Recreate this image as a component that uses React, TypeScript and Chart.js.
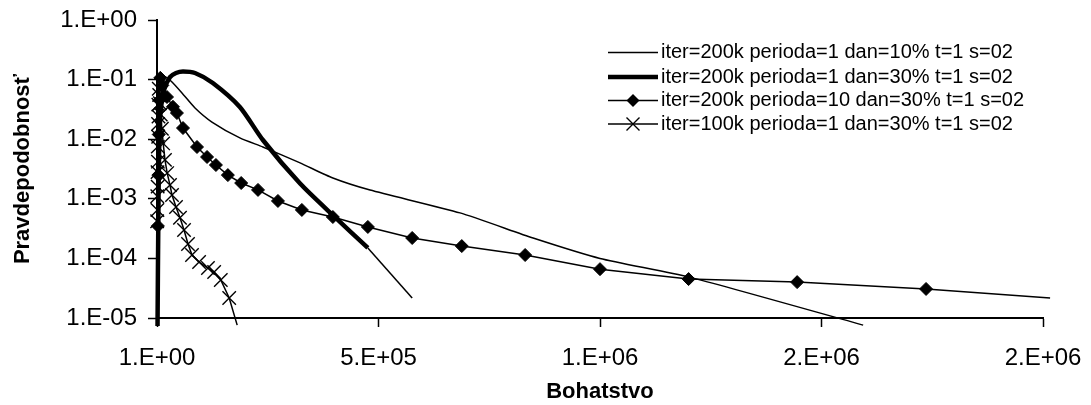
import React, { useEffect, useRef } from "react";
import { Chart, registerables } from "chart.js";

Chart.register(...registerables);

// Series labels
const seriesLabels = [
  "iter=200k perioda=1 dan=10% t=1 s=02",
  "iter=200k perioda=1 dan=30% t=1 s=02",
  "iter=200k perioda=10 dan=30% t=1 s=02",
  "iter=100k perioda=1 dan=30% t=1 s=02",
];

// iter=200k perioda=1 dan=10%
const wealth1 = [700, 4500, 11300, 20300, 33900, 56400, 85800, 124000, 187000, 239000, 323000, 397000, 481000, 684000, 849000, 1000000, 1200000, 1594000];
const prob1 = [9e-5, 0.021, 0.081, 0.11, 0.091, 0.0596, 0.0334, 0.0194, 0.0105, 0.0074, 0.004, 0.00223, 0.0014, 0.00058, 0.00022, 0.0001, 0.000049, 0.0000076];

// iter=200k perioda=1 dan=30%
const wealth2 = [1000, 3400, 6800, 15800, 29300, 42900, 58700, 85800, 126000, 187000, 239000, 323000, 397000, 476000];
const prob2 = [4.3e-6, 0.00095, 0.021, 0.067, 0.11, 0.129, 0.137, 0.129, 0.0877, 0.0347, 0.0097, 0.0018, 0.00053, 0.00015];

// tail of the dan=30% run
const wealthTail = [476000, 576000];
const probTail = [0.00015, 0.0000217];

// iter=200k perioda=10 dan=30%
const wealth3 = [2000, 3000, 4000, 5500, 7500, 12000, 22600, 36000, 45000, 58700, 90300, 113000, 133000, 160000, 190000, 228000, 273000, 327000, 397000, 476000, 576000, 688000, 831000, 1000000, 1200000, 1445000, 1736000, 2016000];
const prob3 = [0.00035, 0.0025, 0.012, 0.045, 0.107, 0.08, 0.051, 0.035, 0.0275, 0.0154, 0.0074, 0.00503, 0.00369, 0.0025, 0.00184, 0.00141, 0.00092, 0.00065, 0.000495, 0.000337, 0.00022, 0.000161, 0.000114, 0.000066, 0.000045, 0.00004, 0.0000307, 0.0000217];

// iter=100k perioda=1 dan=30%
const wealth4 = [300, 600, 900, 1200, 1500, 1800, 2100, 2400, 2700, 3000, 3400, 4000, 5000, 6500, 8500, 11000, 14000, 18000, 23000, 29300, 33900, 42900, 51900, 61000, 70000, 79000, 95000, 115000, 129000, 144000, 163000, 181000];
const prob4 = [0.00042, 0.0011, 0.00065, 0.0028, 0.0016, 0.0075, 0.0042, 0.018, 0.011, 0.038, 0.024, 0.07, 0.055, 0.04, 0.026, 0.015, 0.0085, 0.0045, 0.0027, 0.0017, 0.00116, 0.00073, 0.00048, 0.0003, 0.000175, 0.000114, 0.000087, 0.000069, 0.000059, 0.0000435, 0.0000217, 0.0000076];

// Axes
const xTickValues = [1, 500001, 1000001, 1500001, 2000001];
const xTickLabels = ["1.E+00", "5.E+05", "1.E+06", "2.E+06", "2.E+06"];
const yTickValues = [1e-5, 1e-4, 1e-3, 1e-2, 1e-1, 1];
const yTickLabels = ["1.E-05", "1.E-04", "1.E-03", "1.E-02", "1.E-01", "1.E+00"];
const xTitle = "Bohatstvo";
const yTitle = "Pravdepodobnosť";

const X_MIN = 1;
const X_MAX = 2000001;
const Y_MIN = 1e-5;
const Y_MAX = 1;

const FONT = "'Liberation Sans', Arial, sans-serif";

const pairs = (xs: number[], ys: number[]) => xs.map((x, i) => ({ x, y: ys[i] }));

// hide markers of points that fall outside the axis range
const markerRadius = (r: number) => (ctx: any) => {
  const p = ctx.raw;
  if (!p) return r;
  return p.x > X_MAX || p.y < Y_MIN ? 0 : r;
};

function drawDiamond(ctx: CanvasRenderingContext2D, x: number, y: number, r: number) {
  ctx.beginPath();
  ctx.moveTo(x, y - r);
  ctx.lineTo(x + r, y);
  ctx.lineTo(x, y + r);
  ctx.lineTo(x - r, y);
  ctx.closePath();
  ctx.fill();
}

function drawCross(ctx: CanvasRenderingContext2D, x: number, y: number, r: number) {
  ctx.beginPath();
  ctx.moveTo(x - r, y - r);
  ctx.lineTo(x + r, y + r);
  ctx.moveTo(x + r, y - r);
  ctx.lineTo(x - r, y + r);
  ctx.stroke();
}

// Key drawn inside the plot, upper right
const keyPlugin = {
  id: "seriesKey",
  afterDraw(chart: any) {
    const ctx: CanvasRenderingContext2D = chart.ctx;
    const rows = [51, 75.5, 99, 122.5];
    const lineX0 = 608;
    const lineX1 = 658;
    const textX = 661;
    const styles = [
      { w: 1.5, marker: "" },
      { w: 4.5, marker: "" },
      { w: 1.5, marker: "diamond" },
      { w: 1.5, marker: "cross" },
    ];
    ctx.save();
    ctx.strokeStyle = "#000";
    ctx.fillStyle = "#000";
    ctx.font = `20px ${FONT}`;
    ctx.textBaseline = "alphabetic";
    ctx.textAlign = "left";
    seriesLabels.forEach((label, i) => {
      const y = rows[i];
      const ly = y + 1.5;
      ctx.lineWidth = styles[i].w;
      ctx.beginPath();
      ctx.moveTo(lineX0, ly);
      ctx.lineTo(lineX1, ly);
      ctx.stroke();
      const mx = (lineX0 + lineX1) / 2;
      ctx.lineWidth = 1.4;
      if (styles[i].marker === "diamond") drawDiamond(ctx, mx, ly, 6.5);
      if (styles[i].marker === "cross") drawCross(ctx, mx, ly, 6.5);
      ctx.fillText(label, textX, y + 7.2);
    });
    ctx.restore();
  },
};

export default function App() {
  const canvasRef = useRef<HTMLCanvasElement | null>(null);

  useEffect(() => {
    document.body.style.margin = "0";
    const canvas = canvasRef.current;
    if (!canvas) return;

    const clip = { left: 8, top: 0, right: 8, bottom: 8 };

    const chart = new Chart(canvas, {
      type: "line",
      data: {
        datasets: [
          {
            label: seriesLabels[0],
            data: pairs(wealth1, prob1),
            borderColor: "#000",
            borderWidth: 1.5,
            pointRadius: 0,
            tension: 0.2,
            clip,
          },
          {
            label: seriesLabels[1],
            data: pairs(wealth2, prob2),
            borderColor: "#000",
            borderWidth: 4.5,
            pointRadius: 0,
            tension: 0.25,
            clip,
          },
          {
            label: "",
            data: pairs(wealthTail, probTail),
            borderColor: "#000",
            borderWidth: 1.5,
            pointRadius: 0,
            clip,
          },
          {
            label: seriesLabels[2],
            data: pairs(wealth3, prob3),
            borderColor: "#000",
            backgroundColor: "#000",
            borderWidth: 1.5,
            pointStyle: "rectRot",
            pointRadius: markerRadius(6.5),
            pointBorderWidth: 1,
            clip,
          },
          {
            label: seriesLabels[3],
            data: pairs(wealth4, prob4),
            borderColor: "#000",
            backgroundColor: "#000",
            borderWidth: 1.5,
            pointStyle: "crossRot",
            pointRadius: markerRadius(9.5),
            pointBorderWidth: 1.4,
            clip,
          },
        ],
      },
      options: {
        responsive: false,
        animation: false,
        events: [],
        layout: { padding: { left: 0, top: 20, right: 48, bottom: 0 } },
        plugins: {
          legend: { display: false },
          tooltip: { enabled: false },
          title: { display: false },
        },
        scales: {
          x: {
            type: "linear",
            min: X_MIN,
            max: X_MAX,
            afterBuildTicks: (axis: any) => {
              axis.ticks = xTickValues.map((value) => ({ value }));
            },
            afterFit: (axis: any) => {
              axis.height = 87;
              axis.paddingLeft = 0;
              axis.paddingRight = 0;
            },
            grid: {
              display: true,
              drawOnChartArea: false,
              drawTicks: true,
              tickLength: 9,
              tickWidth: 1.5,
              tickColor: "#000",
            },
            border: { display: true, color: "#000", width: 2 },
            ticks: {
              color: "#000",
              font: { family: FONT, size: 24 },
              padding: 17,
              maxRotation: 0,
              autoSkip: false,
              callback: (_v: any, i: number) => xTickLabels[i],
            },
            title: {
              display: true,
              text: xTitle,
              color: "#000",
              font: { family: FONT, size: 22, weight: "bold" },
              padding: { top: 0, bottom: 0 },
            },
          },
          y: {
            type: "logarithmic",
            min: Y_MIN,
            max: Y_MAX,
            afterBuildTicks: (axis: any) => {
              axis.ticks = yTickValues.map((value) => ({ value }));
            },
            afterFit: (axis: any) => {
              axis.width = 157;
              axis.paddingTop = 0;
              axis.paddingBottom = 0;
            },
            grid: {
              display: true,
              drawOnChartArea: false,
              drawTicks: true,
              tickLength: 9,
              tickWidth: 1.5,
              tickColor: "#000",
            },
            border: { display: true, color: "#000", width: 2 },
            ticks: {
              color: "#000",
              font: { family: FONT, size: 24 },
              padding: 11,
              autoSkip: false,
              callback: (_v: any, i: number) => yTickLabels[i],
            },
            title: {
              display: true,
              text: yTitle,
              color: "#000",
              font: { family: FONT, size: 22, weight: "bold" },
              padding: { top: 10, bottom: 0 },
            },
          },
        },
      },
      plugins: [keyPlugin],
    } as any);

    return () => chart.destroy();
  }, []);

  return (
    <div style={{ width: 1091, height: 405, background: "#fff" }}>
      <canvas ref={canvasRef} width={1091} height={405} style={{ display: "block" }} />
    </div>
  );
}
